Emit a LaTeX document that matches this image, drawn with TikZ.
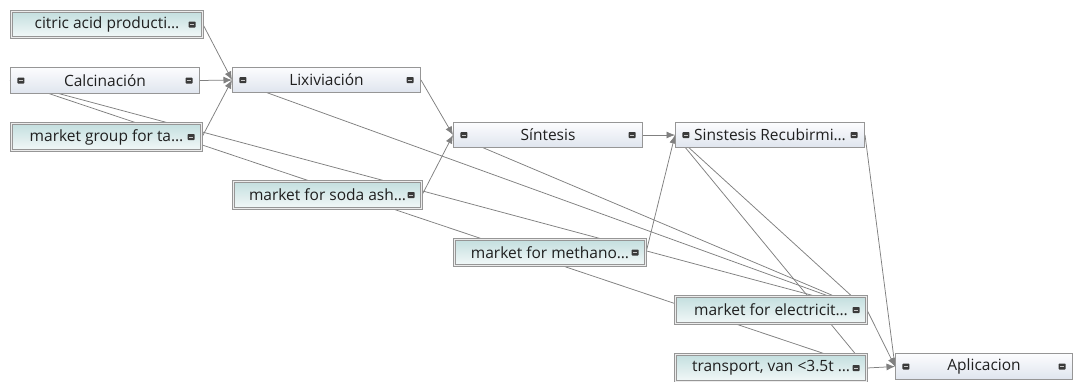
\documentclass[tikz,border=0pt]{standalone}
\usepackage{fontspec}
\setmainfont{Open Sans}
\usetikzlibrary{backgrounds,arrows.meta,calc}

\definecolor{edgegray}{HTML}{808080}
\definecolor{boxgray}{HTML}{969696}
\definecolor{mkttop}{HTML}{C3DFDF}
\definecolor{mktbot}{HTML}{F3F8F8}
\definecolor{prctop}{HTML}{FCFCFE}
\definecolor{prcbot}{HTML}{DFE5EE}
\definecolor{btncol}{HTML}{3A3A3A}
\definecolor{btnbar}{HTML}{C8C8C8}
\definecolor{txt}{HTML}{1F1F1F}

% small "collapse" button centred on a coordinate
\newcommand\minusbtn[1]{%
  \fill[btncol,rounded corners=0.8pt] ($(#1)+(-3.5,-3)$) rectangle ($(#1)+(3.5,3)$);
  \draw[btnbar,line width=1pt] ($(#1)+(-2.1,0)$) -- ($(#1)+(2.1,0)$);}

\tikzset{
  box/.style={rectangle, inner sep=0pt, font=\fontsize{15.5}{18}\selectfont, text=txt},
  % unit process: single frame, buttons on both sides
  proc/.style={box, draw=boxgray, line width=0.9pt, top color=prctop, bottom color=prcbot,
    path picture={
      \path ([xshift=-10.5pt]path picture bounding box.east) coordinate (rbtn)
            ([xshift=10.5pt]path picture bounding box.west) coordinate (lbtn);
      \minusbtn{rbtn}\minusbtn{lbtn}}},
  % market dataset: double frame, button on the right only
  mkt/.style={box, draw=boxgray, line width=0.85pt, double=white!85!gray, double distance=1.2pt,
    top color=mkttop, bottom color=mktbot,
    path picture={
      \path ([xshift=-10.5pt]path picture bounding box.east) coordinate (rbtn);
      \minusbtn{rbtn}}},
  link/.style={draw=edgegray, line width=0.75pt},
  flow/.style={link, -{Latex[length=8.5pt,width=7pt]}},
}

\begin{document}
\begin{tikzpicture}[x=1pt,y=-1pt]
\useasboundingbox (0,0) rectangle (1075,381);

% first column
\node[mkt,  minimum width=191.2pt, minimum height=26.2pt] (citric) at (107,24.5) {citric acid producti…};
\node[proc, minimum width=189.1pt, minimum height=26.1pt] (calc)   at (105,80.5) {Calcinación};
\node[mkt,  minimum width=190.2pt, minimum height=27.2pt] (mgroup) at (106.5,137) {market group for ta…};

% second column
\node[proc, minimum width=188.1pt, minimum height=25.1pt] (lix)  at (326.5,80) {Lixiviación};
\node[mkt,  minimum width=188.2pt, minimum height=27.2pt] (soda) at (327.5,195) {market for soda ash…};

% third column
\node[proc, minimum width=189.1pt, minimum height=25.1pt] (sint) at (548,135) {Síntesis};
\node[mkt,  minimum width=191.2pt, minimum height=26.2pt] (meth) at (550,252.5) {market for methano…};

% fourth column
\node[proc, minimum width=189.1pt, minimum height=25.1pt] (recub) at (770,135) {Sinstesis Recubirmi…};
\node[mkt,  minimum width=191.2pt, minimum height=27.2pt] (elec)  at (771,310) {market for electricit…};
\node[mkt,  minimum width=191.2pt, minimum height=27.2pt] (trans) at (771,368) {transport, van <3.5t …};

% final process
\node[proc, minimum width=177.1pt, minimum height=26.1pt] (apl) at (984,366.5) {Aplicacion};

\begin{scope}[on background layer]
  \fill[white] (0,0) rectangle (1075,381);
  % supply links drawn behind the boxes
  \draw[link] (trans.east) -- (calc.west);
  \draw[link] (elec.east)  -- (calc.west);
  \draw[link] (elec.east)  -- (lix.west);
  \draw[link] (elec.east)  -- (sint.west);
  \draw[link] (elec.east)  -- (recub.west);
  \draw[link] (trans.east) -- (recub.west);
  % main chain
  \draw[flow] (citric.east) -- (lix.west);
  \draw[flow] (calc.east)   -- (lix.west);
  \draw[flow] (mgroup.east) -- (lix.west);
  \draw[flow] (lix.east)    -- (sint.west);
  \draw[flow] (soda.east)   -- (sint.west);
  \draw[flow] (sint.east)   -- (recub.west);
  \draw[flow] (meth.east)   -- (recub.west);
  \draw[flow] (recub.east)  -- (apl.west);
  \draw[flow] (elec.east)   -- (apl.west);
  \draw[flow] (trans.east)  -- (apl.west);
\end{scope}
\end{tikzpicture}
\end{document}
